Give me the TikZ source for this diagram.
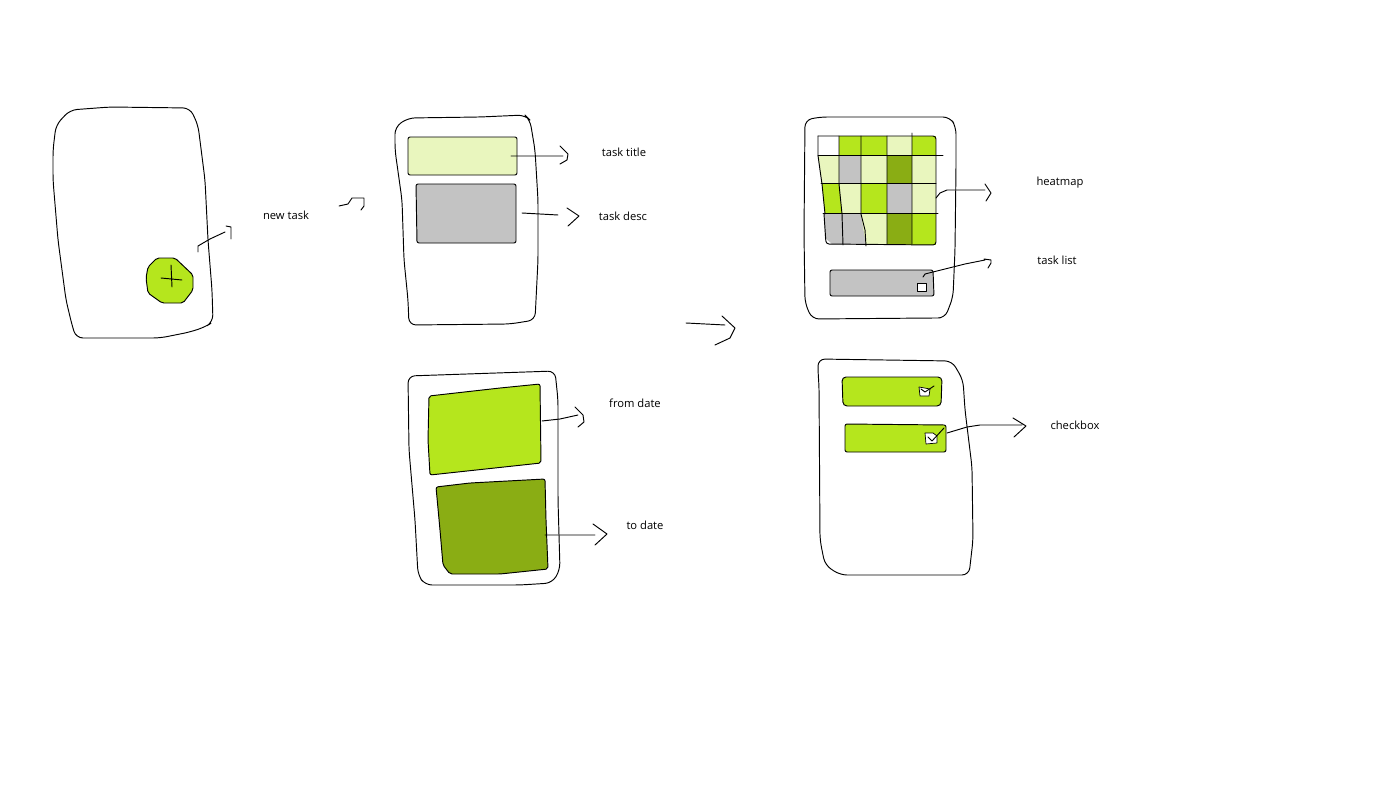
\documentclass[tikz,border=0pt]{standalone}
\usepackage{fontspec}
\setmainfont{Open Sans}
\definecolor{limeg}{HTML}{B5E61D}
\definecolor{paleg}{HTML}{E9F6BE}
\definecolor{darkg}{HTML}{8AAD14}
\definecolor{greyg}{HTML}{C3C3C3}
\tikzset{
  sketch/.style={draw=black,line width=0.95pt,line join=round,line cap=round},
  phone/.style={sketch,rounded corners=7pt},
  card/.style={sketch,rounded corners=2pt},
  caption/.style={font=\fontsize{11.2}{13}\selectfont,text=black,inner sep=0}
}
\begin{document}
\begin{tikzpicture}[x=1pt,y=-1pt]
\useasboundingbox[fill=white] (0,0) rectangle (1376,800);
% first phone
\draw[phone] (76,338) -- (160,338) -- (175,335) -- (190,332) -- (205,327) -- (213,322) -- (212,290) -- (208,240) -- (205,180) -- (198,125) -- (190,108) -- (110,107) -- (70,110) -- (56,125) -- (53,150) -- (53,180) -- (58,240) -- (66,300) -- (72,325) -- cycle;
\draw[card,fill=limeg] (157,258) -- (175,258) -- (193,275) -- (193,290) -- (183,303) -- (162,303) -- (148,293) -- (146,278) -- (148,267) -- cycle;
\draw[sketch] (171,265) -- (172,287) (161,278) -- (182,280);
\draw[sketch] (198,252) -- (198,246) -- (210,239) -- (225,232) (226,226) -- (231,227) -- (231,239);
\node[caption] (newtask) at (286,215) {new task};
\draw[sketch] (339,206) -- (348,204) -- (352,198) -- (364,198) -- (364,206) -- (361,210);
% task form
\draw[phone] (395,127) -- (408,118) -- (480,117) -- (525,115) -- (530,120) -- (535,150) -- (538,200) -- (538,260) -- (535,320) -- (510,324) -- (409,325) -- (408,300) -- (404,260) -- (402,200) -- (395,150) -- cycle;
\draw[card,fill=paleg] (408,137) -- (517,137) -- (517,175) -- (408,175) -- cycle;
\draw[sketch] (511,156) -- (563,156) (560,146) -- (568,154) -- (567,160) -- (560,164);
\node[caption] (tasktitle) at (624,152) {task title};
\draw[card,fill=greyg] (416,184) -- (516,184) -- (516,243) -- (417,243) -- cycle;
\draw[sketch] (522,213) -- (558,215) (567,208) -- (579,216) -- (568,226);
\node[caption] (taskdesc) at (623,216) {task desc};
% date form
\draw[phone] (408,376) -- (555,371) -- (558,400) -- (558,500) -- (560,570) -- (552,583) -- (520,585) -- (425,585) -- (418,575) -- (415,520) -- (409,450) -- cycle;
\draw[card,fill=limeg] (429,396) -- (500,388) -- (540,384) -- (541,463) -- (430,475) -- (428,440) -- cycle;
\draw[sketch] (542,421) -- (560,419) -- (578,415) (575,407) -- (583,415) -- (584,422) -- (578,427);
\node[caption] (fromdate) at (635,403) {from date};
\draw[card,fill=darkg] (436,487) -- (470,483) -- (545,479) -- (546,520) -- (548,569) -- (500,574) -- (450,574) -- (443,565) -- (440,530) -- cycle;
\draw[sketch] (545,535) -- (595,535) (593,524) -- (607,534) -- (595,545);
\node[caption] (todate) at (645,525) {to date};
% big arrow
\draw[sketch] (686,323) -- (725,325) (722,316) -- (735,328) -- (730,338) -- (715,345);
% heatmap phone
\draw[phone] (820,117) -- (950,117) -- (956,127) -- (956,167) -- (955,250) -- (953,297) -- (945,318) -- (933,318) -- (812,319) -- (805,303) -- (804,233) -- (805,120) -- cycle;
\foreach \xa/\ya/\xb/\yb/\col in {839/136/861/156/limeg,861/136/887/156/limeg,887/136/912/156/paleg,912/136/936/156/limeg,
  839/156/861/184/greyg,861/156/887/184/paleg,887/156/912/184/darkg,912/156/936/184/paleg,
  839/184/861/214/paleg,861/184/887/214/limeg,887/184/912/214/greyg,912/184/936/214/paleg,
  861/214/887/245/paleg,887/214/912/245/darkg,912/214/936/245/limeg}
  \fill[\col] (\xa,\ya) rectangle (\xb,\yb);
\fill[paleg] (818,156) -- (839,156) -- (839,184) -- (822,184) -- cycle;
\fill[limeg] (822,184) -- (839,184) -- (842,214) -- (825,214) -- cycle;
\fill[greyg] (824,214) -- (861,214) -- (866,245) -- (832,244) -- (825,238) -- cycle;
\fill[paleg] (861,214) -- (866,245) -- (870,245) -- (870,214) -- cycle;
\draw[sketch,rounded corners=3pt] (818,136) -- (936,136) -- (936,245) -- (826,244) -- (824,214);
\draw[sketch] (818,136) -- (818,155.5) -- (820,170) -- (822,184) -- (825,214);
\draw[sketch] (818,155.5) -- (943,155.5) (821,183.5) -- (936,183.5) (823,213.5) -- (938,213.5);
\draw[sketch] (839,136) -- (839,184) -- (842,214) -- (843,245) (861,136) -- (861,214) -- (865,230) -- (866,246) (887,136) -- (887,244) (912,133) -- (912,244);
\draw[sketch] (936,198) -- (940,193) -- (947,190) -- (985,190) (985,184) -- (991,193) -- (986,201);
\node[caption] (heatmap) at (1060,183) {heatmap};
\draw[card,fill=greyg] (830,270) -- (933,270) -- (934,296) -- (830,296) -- cycle;
\draw[sketch,fill=white,line width=0.7pt] (917,283) rectangle (926,291);
\draw[sketch] (923,277) -- (925,274) -- (933,272) -- (965,264) -- (985,260) (984,259) -- (991,260) -- (991,263) -- (988,268);
\node[caption] (tasklist) at (1057,260) {task list};
% checkbox phone
\draw[phone] (818,372) -- (818,359) -- (952,361) -- (963,380) -- (965,410) -- (972,467) -- (973,540) -- (969,575) -- (955,575) -- (840,575) -- (825,565) -- (820,540) -- (819,385) -- cycle;
\draw[card,rounded corners=4pt,fill=limeg] (842,377) -- (942,377) -- (941,406) -- (843,406) -- cycle;
\draw[sketch,fill=white,line width=0.7pt] (919,387) -- (920,396) -- (929,396) -- (930,389) -- cycle;
\draw[sketch] (921,389) -- (925,392) -- (934,386);
\draw[card,fill=limeg] (845,424) -- (946,425) -- (946,452) -- (845,452) -- cycle;
\draw[sketch,fill=white,line width=0.7pt] (925,433) -- (926,444) -- (937,443) -- (937,436) -- (933,433) -- cycle;
\draw[sketch] (928,437) -- (932,441) -- (944,428);
\draw[sketch] (947,433) -- (967,427) -- (980,425) -- (1022,425) (1013,418) -- (1026,426) -- (1014,437);
\node[caption] (checkbox) at (1075,425) {checkbox};
\end{tikzpicture}
\end{document}
